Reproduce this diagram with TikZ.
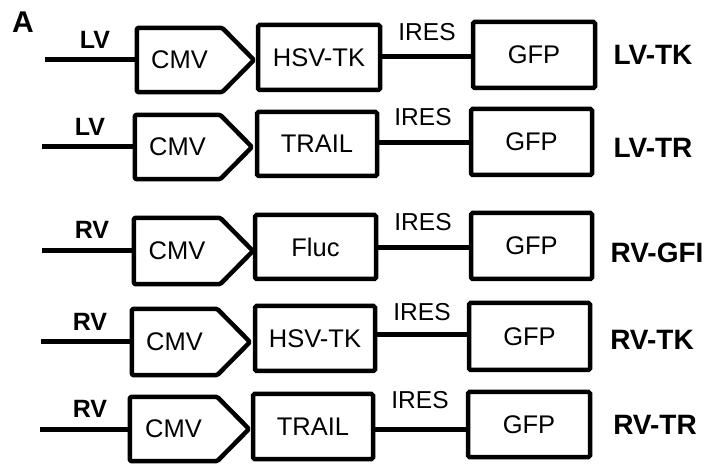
\documentclass[tikz,border=0pt]{standalone}
\usepackage{fontspec}
\setmainfont{Liberation Sans}
\begin{document}
\begin{tikzpicture}[x=1pt,y=-1pt,
  wire/.style={line width=5pt},
  box/.style={draw, line width=4.5pt, rounded corners=1.5pt, inner sep=0pt,
    font=\fontsize{25.5}{29}\selectfont},
  cmvtext/.style={inner sep=0pt, font=\fontsize{25.5}{29}\selectfont},
  outline/.style={draw, line width=4.5pt, rounded corners=1.5pt, line join=round},
  plainlabel/.style={inner sep=0pt, font=\fontsize{24.5}{28}\selectfont},
  veclabel/.style={inner sep=0pt, font=\fontsize{25}{29}\selectfont\bfseries},
  namelabel/.style={inner sep=0pt, font=\fontsize{28}{32}\selectfont\bfseries}]
\useasboundingbox (0,0) rectangle (705,465);
\node[inner sep=0pt, font=\fontsize{30}{34}\selectfont\bfseries] (panel) at (23,22) {A};
\foreach \r/\vy/\xo/\cl/\cf/\ctop/\cbot/\bl/\br/\btop/\bbot/\iy/\gl/\gr/\gtop/\gbot/\ix/\iyl/\vx/\vyl/\nx/\ny/\btxt/\vl/\nm in {
 1/61/45/137/222/28/92/258/380/25/90/57/473/595/22/88/427/32/95/40/653/55/HSV-TK/LV/LV-TK,
 2/147/42/135/220/115/179/257/377/112/176/143/471/592/109/175/423/117/90/127/653/148/TRAIL/LV/LV-TR,
 3/252/42/134/220/218/284/255/376/215/279/248/471/592/213/279/423/222/92/230/657/253/Fluc/RV/RV-GFI,
 4/339/41/132/217/309/375/255/375/306/371/335/469/590/303/370/422/312/90/322/652/340/HSV-TK/RV/RV-TK,
 5/431/40/130/217/397/461/253/373/394/459/429/468/590/392/457/420/400/90/409/655/425/TRAIL/RV/RV-TR}{
  % promoter (CMV) arrow
  \node[cmvtext, minimum width={\cf-\cl}, minimum height={\cbot-\ctop}]
    (cmv\r) at ({(\cl+\cf)/2},{(\ctop+\cbot)/2}) {CMV};
  \coordinate (tip\r) at ({\cf+(\cbot-\ctop)/2},{(\ctop+\cbot)/2});
  \draw[outline] (cmv\r.north west) -- (cmv\r.north east) -- (tip\r)
    -- (cmv\r.south east) -- (cmv\r.south west) -- cycle;
  % insert gene box
  \node[box, minimum width={\br-\bl}, minimum height={\bbot-\btop}]
    (ins\r) at ({(\bl+\br)/2},{(\btop+\bbot)/2}) {\btxt};
  % GFP box
  \node[box, minimum width={\gr-\gl}, minimum height={\gbot-\gtop}]
    (gfp\r) at ({(\gl+\gr)/2},{(\gtop+\gbot)/2}) {GFP};
  % vector backbone
  \coordinate (v\r) at (\xo,{(\ctop+\cbot)/2});
  \draw[wire] (v\r) -- (cmv\r.west);
  % IRES link
  \coordinate (i\r) at (0,\iy);
  \draw[wire] (ins\r.east |- i\r) -- (gfp\r.west |- i\r);
  % labels
  \node[plainlabel] (ireslab\r) at (\ix,\iyl) {IRES};
  \node[veclabel] (veclab\r) at (\vx,\vyl) {\vl};
  \node[namelabel] (name\r) at (\nx,\ny) {\nm};
}
\end{tikzpicture}
\end{document}
